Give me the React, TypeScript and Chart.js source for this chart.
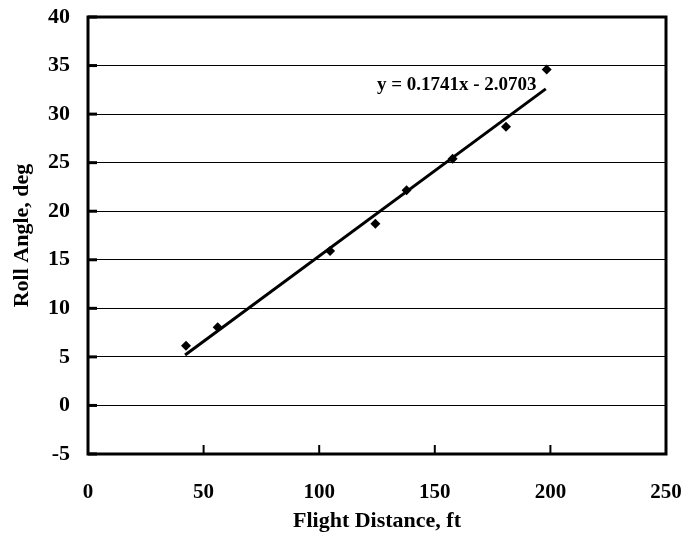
import React, { useEffect, useRef } from "react";
import { Chart, registerables } from "chart.js";

Chart.register(...registerables);

const flightDistance = [42.4, 56.1, 104.7, 124.3, 137.8, 157.7, 180.8, 198.4];
const rollAngle = [6.15, 8.04, 15.9, 18.7, 22.15, 25.4, 28.7, 34.6];
const trendX = [42, 198];
const trendY = [5.2, 32.6];
const equationText = "y = 0.1741x - 2.0703";
const xTicks = [0, 50, 100, 150, 200, 250];
const yTicks = [-5, 0, 5, 10, 15, 20, 25, 30, 35, 40];

const FONT = "'Liberation Serif', 'Times New Roman', serif";

const framePlugin = {
  id: "frame",
  afterDraw(chart: any) {
    const { ctx, chartArea, scales } = chart;
    const { left, right, top, bottom } = chartArea;
    ctx.save();
    ctx.strokeStyle = "#000";
    ctx.lineWidth = 3;
    yTicks.forEach((v) => {
      const y = scales.y.getPixelForValue(v);
      ctx.beginPath();
      ctx.moveTo(left, y);
      ctx.lineTo(left + 9, y);
      ctx.stroke();
    });
    ctx.lineWidth = 2;
    xTicks.forEach((v) => {
      const x = scales.x.getPixelForValue(v);
      ctx.beginPath();
      ctx.moveTo(x, bottom);
      ctx.lineTo(x, bottom - 9);
      ctx.stroke();
    });
    ctx.lineWidth = 3;
    ctx.strokeRect(left, top, right - left, bottom - top);
    ctx.fillStyle = "#000";
    ctx.font = `bold 19px ${FONT}`;
    ctx.textAlign = "center";
    ctx.textBaseline = "middle";
    ctx.fillText(
      equationText,
      scales.x.getPixelForValue(159.5),
      scales.y.getPixelForValue(33.0)
    );
    ctx.restore();
  },
};

export default function App() {
  const ref = useRef<HTMLCanvasElement>(null);
  useEffect(() => {
    if (!ref.current) return;
    const chart = new Chart(ref.current, {
      type: "scatter",
      data: {
        datasets: [
          {
            type: "line",
            data: trendX.map((x, i) => ({ x, y: trendY[i] })),
            borderColor: "#000",
            borderWidth: 3,
            pointRadius: 0,
            fill: false,
          } as any,
          {
            data: flightDistance.map((x, i) => ({ x, y: rollAngle[i] })),
            backgroundColor: "#000",
            borderColor: "#000",
            borderWidth: 0,
            pointStyle: "rectRot",
            pointRadius: 5,
          },
        ],
      },
      plugins: [framePlugin],
      options: {
        responsive: false,
        animation: false,
        layout: { padding: { top: 17, right: 23, bottom: 0, left: 0 } },
        plugins: {
          legend: { display: false },
          tooltip: { enabled: false },
        },
        scales: {
          x: {
            type: "linear",
            min: 0,
            max: 250,
            afterFit(scale: any) {
              scale.height = 79;
              scale.paddingLeft = 0;
              scale.paddingRight = 0;
            },
            afterBuildTicks(scale: any) {
              scale.ticks = xTicks.map((v) => ({ value: v }));
            },
            grid: { display: false, drawTicks: false },
            border: { display: false },
            ticks: {
              padding: 26,
              color: "#000",
              font: { family: FONT, size: 21, weight: "bold" },
              maxRotation: 0,
            },
            title: {
              display: true,
              text: "Flight Distance, ft",
              color: "#000",
              font: { family: FONT, size: 22, weight: "bold" },
              padding: { top: 0, bottom: -2 },
            },
          },
          y: {
            type: "linear",
            min: -5,
            max: 40,
            afterFit(scale: any) {
              scale.width = 88;
              scale.paddingTop = 0;
              scale.paddingBottom = 0;
            },
            afterBuildTicks(scale: any) {
              scale.ticks = yTicks.map((v) => ({ value: v }));
            },
            grid: { color: "#000", lineWidth: 1, drawTicks: false },
            border: { display: false },
            ticks: {
              padding: 18,
              color: "#000",
              font: { family: FONT, size: 22, weight: "bold" },
            },
            title: {
              display: true,
              text: "Roll Angle, deg",
              color: "#000",
              font: { family: FONT, size: 22, weight: "bold" },
              padding: { top: 9, bottom: 0 },
            },
          },
        },
      },
    });
    return () => chart.destroy();
  }, []);
  return (
    <div style={{ position: "absolute", left: 0, top: 0, width: 689, height: 533 }}>
      <canvas ref={ref} width={689} height={533} style={{ width: 689, height: 533 }} />
    </div>
  );
}
